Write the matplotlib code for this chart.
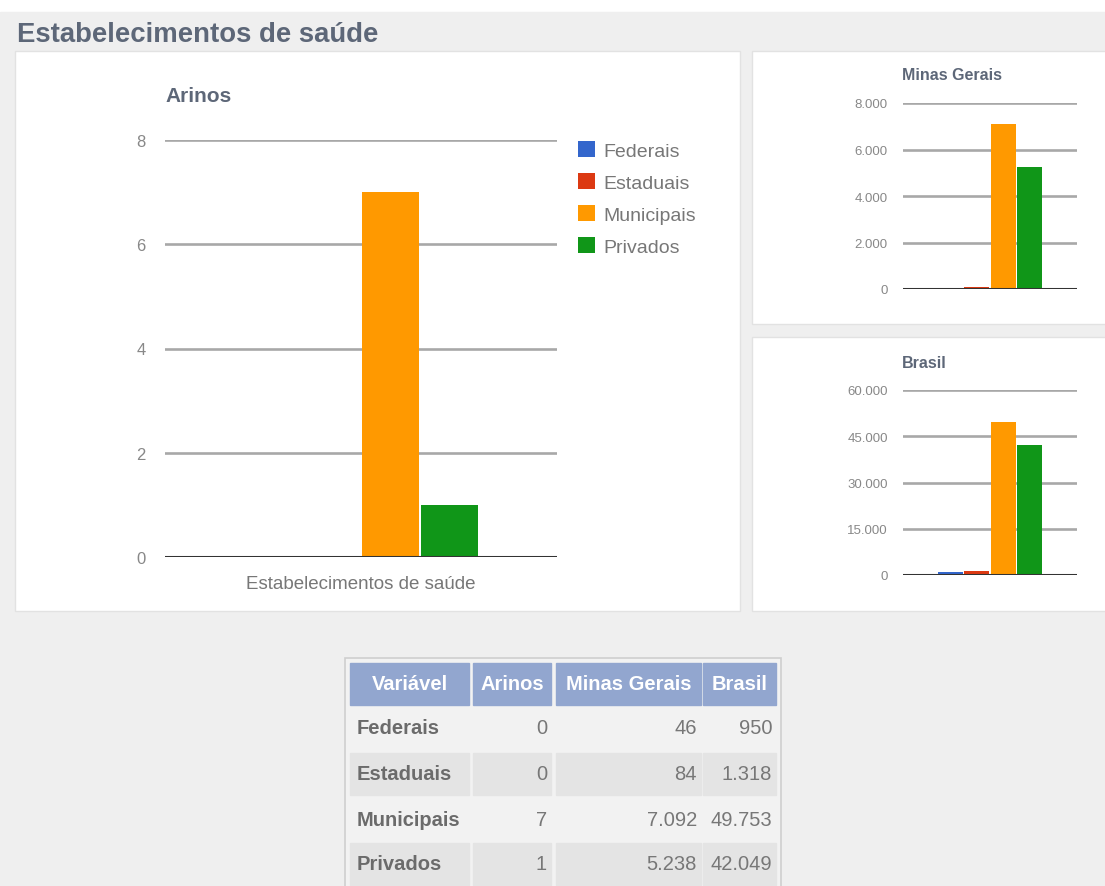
import matplotlib
matplotlib.use("Agg")
import matplotlib.pyplot as plt
from matplotlib.patches import Rectangle

plt.rcParams['font.family'] = ['Liberation Sans', 'DejaVu Sans']

# data
categories = ["Federais", "Estaduais", "Municipais", "Privados"]
arinos = [0, 0, 7, 1]
minas = [46, 84, 7092, 5238]
brasil = [950, 1318, 49753, 42049]
colors = ["#3366cc", "#dc3912", "#ff9900", "#109618"]
table_header = ["Variável", "Arinos", "Minas Gerais", "Brasil"]

W, H = 1105, 887
fig = plt.figure(figsize=(W / 100, H / 100), dpi=100, facecolor="white")


def px_axes(x0, y0, x1, y1, **kw):
    return fig.add_axes([x0 / W, 1 - y1 / H, (x1 - x0) / W, (y1 - y0) / H], **kw)


def fmt(v):
    return f"{v:,.0f}".replace(",", ".")


# background / panels / table drawn in pixel coords
bg = px_axes(0, 0, W, H, zorder=-5)
bg.set_xlim(0, W)
bg.set_ylim(H, 0)
bg.axis("off")
bg.add_patch(Rectangle((0, 13), W, H - 13, color="#efefef"))
for (x0, y0, x1, y1) in [(15, 52, 740, 612), (752, 52, W + 5, 325), (752, 338, W + 5, 612)]:
    bg.add_patch(Rectangle((x0, y0), x1 - x0, y1 - y0, facecolor="white",
                           edgecolor="#e2e2e2", lw=1))
bg.text(17, 35, "Estabelecimentos de saúde", fontsize=19.8, fontweight="bold",
        color="#5d6778", va="center", ha="left")

# table
bg.add_patch(Rectangle((345, 659), 436, H - 655, facecolor="#f2f2f2", edgecolor="#cfcfcf", lw=1.2))
cols = [(350, 469), (473, 551), (556, 701), (703, 776)]
rows = [(707, 751), (754, 796), (799, 842), (844, 886)]
for (c0, c1), name in zip(cols, table_header):
    bg.add_patch(Rectangle((c0, 664), c1 - c0, 42, color="#92a6cf"))
    bg.text((c0 + c1) / 2, 685, name, color="white", fontsize=14.5, fontweight="bold",
            ha="center", va="center")
for i, cat in enumerate(categories):
    r0, r1 = rows[i]
    yc = (r0 + r1) / 2
    if i % 2 == 1:
        for c0, c1 in cols:
            bg.add_patch(Rectangle((c0, r0), c1 - c0, r1 - r0, color="#e4e4e4"))
    bg.text(357, yc, cat, color="#6b6b6b", fontsize=14.5, fontweight="bold",
            ha="left", va="center")
    for (c0, c1), vals in zip(cols[1:], [arinos, minas, brasil]):
        bg.text(c1 - 4, yc, fmt(vals[i]), color="#777777", fontsize=14.5,
                ha="right", va="center")


def bar_chart(ax, values, ymax, step, tick_fs, pad, labels=False):
    n = len(values)
    w = 0.151
    for i, v in enumerate(values):
        ax.bar((i - (n - 1) / 2) * w, v, width=w * 0.96, color=colors[i],
               label=categories[i] if labels else None, zorder=3)
    ax.set_xlim(-0.5, 0.5)
    ax.set_ylim(0, ymax)
    ax.set_yticks(range(0, ymax + 1, step))
    ax.set_yticklabels([fmt(t) for t in range(0, ymax + 1, step)])
    ax.yaxis.grid(True, color="#a8a8a8", lw=1.9, zorder=0)
    ax.axhline(0, color="#333333", lw=2.2, zorder=4)
    for s in ax.spines.values():
        s.set_visible(False)
    ax.tick_params(axis="y", length=0, pad=pad, labelsize=tick_fs, labelcolor="#888888")


# main chart
ax = px_axes(165, 141, 557, 558)
bar_chart(ax, arinos, 8, 2, 12, 14, labels=True)
ax.set_xticks([0])
ax.set_xticklabels(["Estabelecimentos de saúde"], fontsize=13.5, color="#777777")
ax.tick_params(axis="x", length=0, pad=13)
fig.text(165 / W, 1 - 96 / H, "Arinos", fontsize=15, fontweight="bold",
         color="#5d6778", va="center", ha="left")
leg = ax.legend(loc="upper left", bbox_to_anchor=((578 - 165) / 392, 1 - 1 / 417),
                frameon=False, fontsize=14, labelcolor="#777777",
                handlelength=0.85, handleheight=0.9, handletextpad=0.45,
                labelspacing=0.68, borderaxespad=0, borderpad=0)

# Minas Gerais
ax2 = px_axes(903, 104, 1077, 290)
bar_chart(ax2, minas, 8000, 2000, 9.5, 11)
ax2.set_xticks([])
fig.text(902 / W, 1 - 75 / H, "Minas Gerais", fontsize=11.5, fontweight="bold",
         color="#5d6778", va="center", ha="left")

# Brasil
ax3 = px_axes(903, 391, 1077, 576)
bar_chart(ax3, brasil, 60000, 15000, 9.5, 11)
ax3.set_xticks([])
fig.text(902 / W, 1 - 363 / H, "Brasil", fontsize=11.5, fontweight="bold",
         color="#5d6778", va="center", ha="left")

fig.savefig("out.png", dpi=100, facecolor=fig.get_facecolor())
